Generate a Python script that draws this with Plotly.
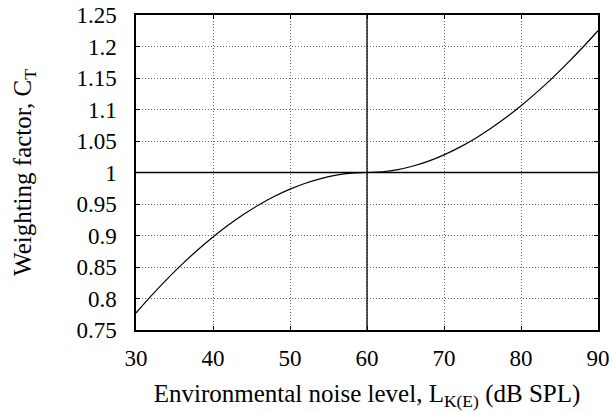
import plotly.graph_objects as go

# Data
noise_level = [30, 32, 34, 36, 38, 40, 42, 44, 46, 48, 50, 52, 54, 56, 58, 60,
               62, 64, 66, 68, 70, 72, 74, 76, 78, 80, 82, 84, 86, 88, 90]
weighting = [0.777, 0.8045, 0.8304, 0.8545, 0.877, 0.8977, 0.9166, 0.9337, 0.9489,
             0.9622, 0.9736, 0.983, 0.9904, 0.9957, 0.9989, 1.000,
             1.0012, 1.0046, 1.0103, 1.0181, 1.028, 1.0399, 1.0537, 1.0694, 1.0868,
             1.106, 1.1268, 1.149, 1.1731, 1.1984, 1.225]
x_ticks = [30, 40, 50, 60, 70, 80, 90]
y_ticks = [0.75, 0.8, 0.85, 0.9, 0.95, 1.0, 1.05, 1.1, 1.15, 1.2, 1.25]
y_tick_labels = ["0.75", "0.8", "0.85", "0.9", "0.95", "1", "1.05", "1.1", "1.15", "1.2", "1.25"]
ref_x = 60
ref_y = 1.0

font_family = "Liberation Serif, serif"

fig = go.Figure()
fig.add_trace(go.Scatter(x=noise_level, y=weighting, mode="lines",
                         line=dict(color="black", width=1.2, shape="spline"),
                         showlegend=False))

fig.add_vline(x=ref_x, line=dict(color="black", width=1.3))
fig.add_hline(y=ref_y, line=dict(color="black", width=1.3))

axis_common = dict(showline=True, linecolor="black", linewidth=1.5, mirror="ticks",
                   ticks="inside", ticklen=4, tickcolor="black",
                   showgrid=True, gridcolor="#666666", griddash="1px,2px", gridwidth=1,
                   zeroline=False, automargin=False,
                   tickfont=dict(family=font_family, size=23, color="black"))

fig.update_xaxes(range=[30, 90], tickvals=x_ticks, ticktext=[str(v) for v in x_ticks],
                 title=dict(text="Environmental noise level, L<sub>K(E)</sub> (dB SPL)",
                            font=dict(family=font_family, size=25, color="black"),
                            standoff=14),
                 ticklabelstandoff=7,
                 **axis_common)
fig.update_yaxes(range=[0.75, 1.25], tickvals=y_ticks, ticktext=y_tick_labels,
                 title=dict(text="Weighting factor, C<sub>T</sub>",
                            font=dict(family=font_family, size=25, color="black"),
                            standoff=38),
                 ticklabelstandoff=13,
                 **axis_common)

fig.update_layout(width=613, height=412,
                  margin=dict(l=136, r=15, t=15, b=82),
                  paper_bgcolor="white", plot_bgcolor="white",
                  font=dict(family=font_family, color="black"))

fig.write_html("out.html")
